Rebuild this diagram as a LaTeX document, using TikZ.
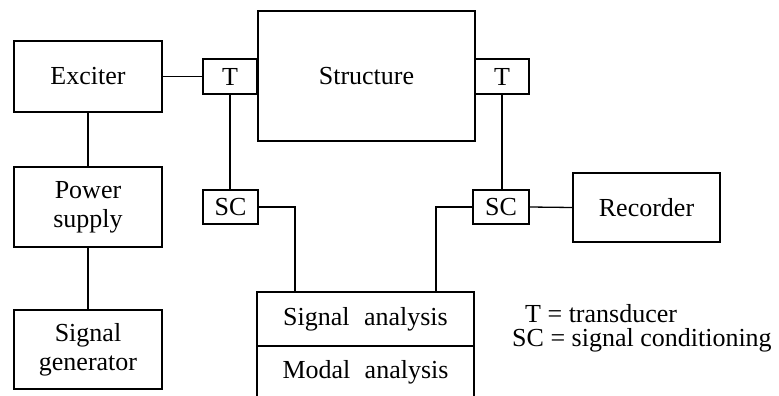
\documentclass[tikz,border=0pt]{standalone}
\usepackage{fontspec}
\setmainfont{Liberation Serif}
\begin{document}
\begin{tikzpicture}[x=1pt,y=-1pt,
  box/.style={draw,line width=1.3pt,inner sep=0pt,align=center,font=\fontsize{26}{29}\selectfont},
  conn/.style={line width=1.3pt},
  lbl/.style={inner sep=0pt,font=\fontsize{26}{29}\selectfont}]
\useasboundingbox (0,0) rectangle (779,396);
\node[box,minimum width=148pt,minimum height=71pt] (exc) at (88,76.5) {Exciter};
\node[box,minimum width=148pt,minimum height=80pt] (pow) at (88,207) {Power\\supply};
\node[box,minimum width=148pt,minimum height=79pt] (gen) at (88,349.5) {Signal\\generator};
\node[box,minimum width=217pt,minimum height=130pt] (str) at (366.5,76) {Structure};
\node[box,minimum width=54pt,minimum height=35pt] (tl) at (230,76.5) {T};
\node[box,minimum width=54pt,minimum height=35pt] (tr) at (502,76.5) {T};
\node[box,minimum width=55pt,minimum height=34pt] (scl) at (230.5,207) {SC};
\node[box,minimum width=56pt,minimum height=34pt] (scr) at (501,207) {SC};
\node[box,minimum width=147pt,minimum height=69pt] (rec) at (646.5,207.5) {Recorder};
% analysis box (open at bottom)
\coordinate (abl) at (257,396);
\coordinate (atl) at (257,292);
\coordinate (atr) at (474,292);
\coordinate (abr) at (474,396);
\coordinate (dl) at (257,346);
\coordinate (dr) at (474,346);
\draw[conn] (abl) -- (atl) -- (atr) -- (abr);
\draw[conn] (dl) -- (dr);
\node[lbl] (sig) at (365.5,319) {Signal\hspace{0.55em}analysis};
\node[lbl] (mod) at (365.5,372) {Modal\hspace{0.55em}analysis};
\coordinate (a1) at (295,292);
\coordinate (a2) at (436,292);
% connectors
\draw[conn] (exc.east) -- (tl.west);
\draw[conn] (exc.south) -- (pow.north);
\draw[conn] (pow.south) -- (gen.north);
\draw[conn] (tl.south) -- (tl.south |- scl.north);
\draw[conn] (tr.south) -- (tr.south |- scr.north);
\draw[conn] (scl.east) -| (a1);
\draw[conn] (scr.west) -| (a2);
\draw[conn] (scr.east) -- (rec.west);
% legend
\node[lbl,anchor=base west] (lg1) at (525,322) {T = transducer};
\node[lbl,anchor=base west] (lg2) at (512,346) {SC = signal conditioning};
\end{tikzpicture}
\end{document}
